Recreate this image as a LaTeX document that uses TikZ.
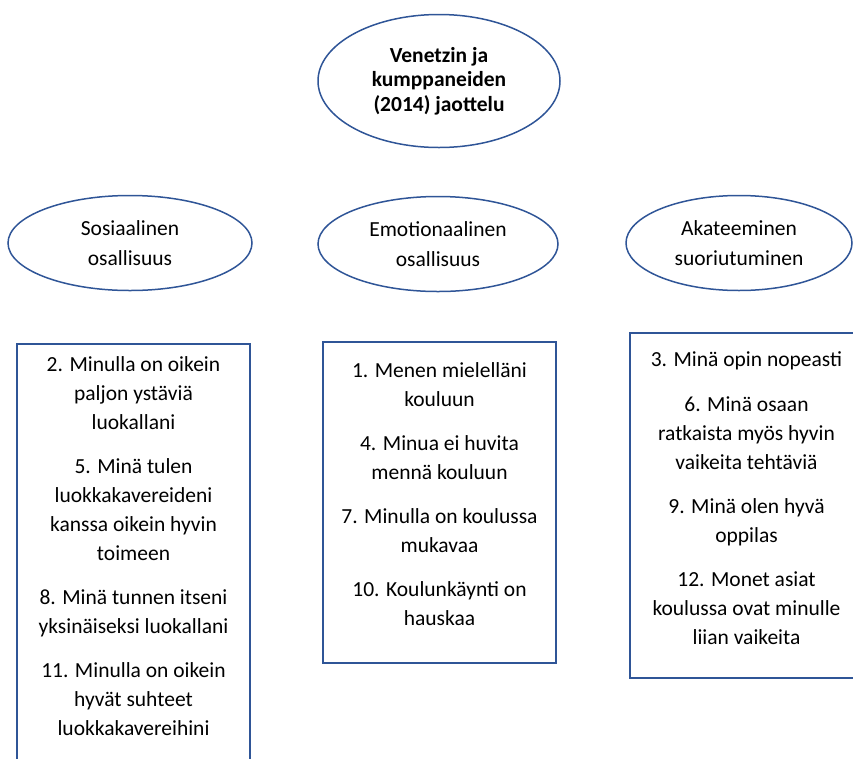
\documentclass[tikz,border=0pt]{standalone}
\usepackage{fontspec}
\setmainfont{Carlito}
\usetikzlibrary{shapes.geometric,positioning}
\definecolor{edge}{HTML}{2F5597}
\tikzset{oval/.style={ellipse,draw=edge,line width=1.5pt,inner sep=0pt,align=center,
 font=\fontsize{21.5}{30}\selectfont,minimum height=95pt},
 itembox/.style={draw=edge,line width=1.5pt,minimum width=233pt,inner sep=0pt},
 itemtext/.style={align=center,inner sep=0pt,font=\fontsize{21.5}{29}\selectfont}}
\begin{document}
\begin{tikzpicture}[x=1pt,y=-1pt]
\useasboundingbox (0,0) rectangle (853,758);
\node[oval,minimum width=242pt,minimum height=133pt,font=\fontsize{21.5}{24.5}\selectfont\bfseries] (title) at (439,81) {Venetzin ja\\kumppaneiden\\(2014) jaottelu};
\node[oval,minimum width=244pt] (sos) at (130,243) {Sosiaalinen\\osallisuus};
\node[oval,minimum width=240pt] (emo) at (438,244) {Emotionaalinen\\osallisuus};
\node[oval,minimum width=226pt] (aka) at (739,243) {Akateeminen\\suoriutuminen};
% item boxes
\node[itembox,minimum height=440pt,anchor=north] (sosbox) at (133.5,343) {};
\node[itembox,minimum height=321pt,anchor=north] (emobox) at (439.5,341) {};
\node[itembox,minimum height=345pt,anchor=north] (akabox) at (746.5,332) {};
\node[itemtext,anchor=north] (sostext) at ([yshift=-13pt]sosbox.north) {2. Minulla on oikein\\paljon ystäviä\\luokallani\\[15pt]
 5. Minä tulen\\luokkakavereideni\\kanssa oikein hyvin\\toimeen\\[15pt]
 8. Minä tunnen itseni\\yksinäiseksi luokallani\\[15pt]
 11. Minulla on oikein\\hyvät suhteet\\luokkakavereihini};
\node[itemtext,anchor=north] (emotext) at ([yshift=-21pt]emobox.north) {1. Menen mielelläni\\kouluun\\[15pt]
 4. Minua ei huvita\\mennä kouluun\\[15pt]
 7. Minulla on koulussa\\mukavaa\\[15pt]
 10. Koulunkäynti on\\hauskaa};
\node[itemtext,anchor=north] (akatext) at ([yshift=-19pt]akabox.north) {3. Minä opin nopeasti\\[16pt]
 6. Minä osaan\\ratkaista myös hyvin\\vaikeita tehtäviä\\[15pt]
 9. Minä olen hyvä\\oppilas\\[15pt]
 12. Monet asiat\\koulussa ovat minulle\\liian vaikeita};
\end{tikzpicture}
\end{document}
